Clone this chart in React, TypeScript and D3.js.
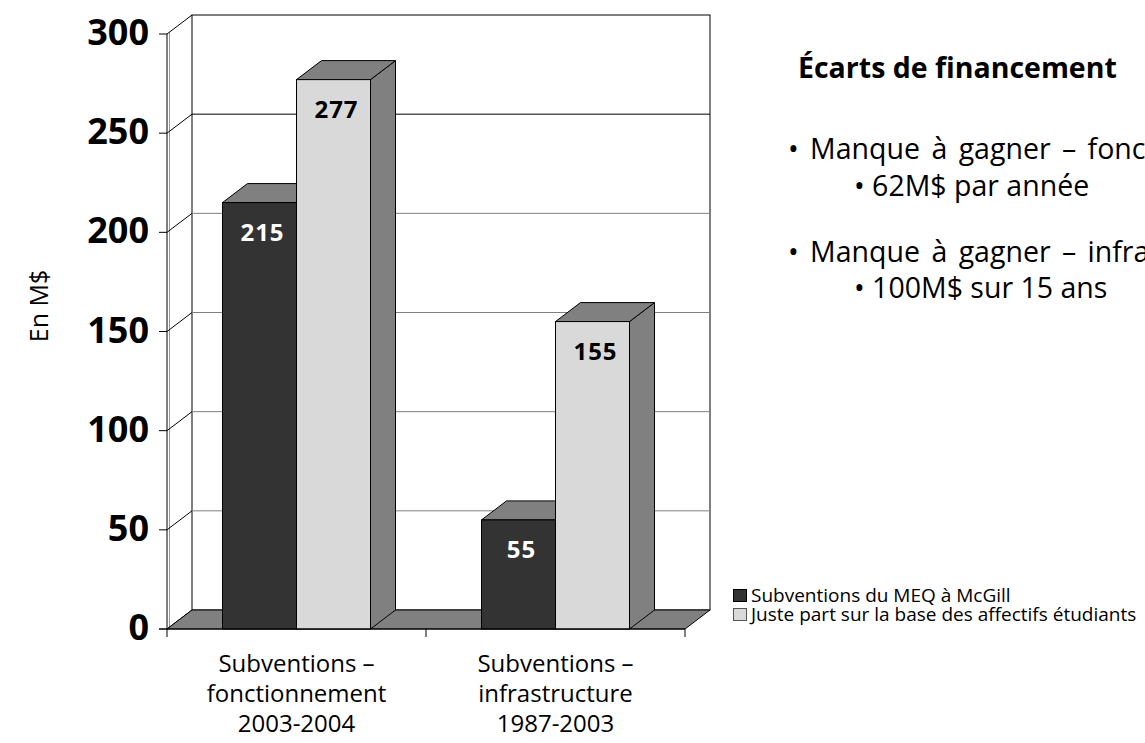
import React from 'react';
import * as d3 from 'd3';

const categories = [
  ['Subventions –', 'fonctionnement', '2003-2004'],
  ['Subventions –', 'infrastructure', '1987-2003']
];
const seriesNames = ['Subventions du MEQ à McGill', 'Juste part sur la base des affectifs étudiants'];
const meqValues = [215, 55];
const justePartValues = [277, 155];
const yTicks = [0, 50, 100, 150, 200, 250, 300];

const W = 1145;
const H = 743;
const FONT = '"Open Sans", sans-serif';

const frontLeft = 167;
const frontRight = 685;
const DX = 25;
const DY = -19;

const colors = {
  dark: '#333333',
  light: '#d9d9d9',
  face: '#808080'
};

export default function App() {
  const y = d3.scaleLinear().domain([0, 300]).range([629, 34]);
  const x0 = d3
    .scaleBand<number>()
    .domain(categories.map((_, i) => i))
    .range([frontLeft, frontRight]);
  const groupWidth = 148;
  const x1 = d3
    .scaleBand<number>()
    .domain([0, 1])
    .range([0, groupWidth]);

  const series = [
    { values: meqValues, fill: colors.dark, text: '#ffffff' },
    { values: justePartValues, fill: colors.light, text: '#000000' }
  ];

  const y0 = y(0);
  const yTop = y(300);
  const barX = (ci: number, si: number) =>
    (x0(ci) || 0) + x0.bandwidth() / 2 - groupWidth / 2 + (x1(si) || 0);

  return (
    <svg width={W} height={H} style={{ position: 'absolute', left: 0, top: 0 }}>
      <rect width={W} height={H} fill="#ffffff" />

      {/* paroi du fond */}
      <rect
        x={frontLeft + DX}
        y={yTop + DY}
        width={frontRight - frontLeft}
        height={y0 - yTop}
        fill="#ffffff"
        stroke="#000"
        strokeWidth={1}
      />
      {yTicks.slice(1, -1).map(t => (
        <line
          key={t}
          x1={frontLeft + DX}
          x2={frontRight + DX}
          y1={y(t) + DY}
          y2={y(t) + DY}
          stroke={t === 250 ? '#000' : '#808080'}
          strokeWidth={1}
        />
      ))}

      {/* paroi gauche */}
      <line x1={frontLeft + 2.5} x2={frontLeft + 2.5} y1={yTop - 1.5} y2={y0} stroke="#999" />
      {yTicks.map(t => (
        <line
          key={t}
          x1={frontLeft}
          y1={y(t)}
          x2={frontLeft + DX}
          y2={y(t) + DY}
          stroke="#000"
          strokeWidth={1}
        />
      ))}

      {/* plancher */}
      <path
        d={`M${frontLeft},${y0}L${frontRight},${y0}L${frontRight + DX},${y0 + DY}L${frontLeft + DX},${y0 + DY}Z`}
        fill={colors.face}
        stroke="#000"
        strokeWidth={1}
      />

      {/* barres */}
      {categories.map((_, ci) => (
        <g key={ci}>
          {series.map((s, si) => {
            const bx = barX(ci, si);
            const bw = x1.bandwidth();
            const top = y(s.values[ci]);
            return (
              <g key={si}>
                <path
                  d={`M${bx + bw},${top}L${bx + bw + DX},${top + DY}L${bx + bw + DX},${y0 + DY}L${bx + bw},${y0}Z`}
                  fill={colors.face}
                  stroke="#000"
                  strokeWidth={1}
                />
                <path
                  d={`M${bx},${top}L${bx + DX},${top + DY}L${bx + bw + DX},${top + DY}L${bx + bw},${top}Z`}
                  fill={colors.face}
                  stroke="#000"
                  strokeWidth={1}
                />
                <rect
                  x={bx}
                  y={top}
                  width={bw}
                  height={y0 - top}
                  fill={s.fill}
                  stroke="#000"
                  strokeWidth={1}
                />
              </g>
            );
          })}
        </g>
      ))}
      {categories.map((_, ci) =>
        series.map((s, si) => {
          const bx = barX(ci, si);
          const bw = x1.bandwidth();
          const top = y(s.values[ci]);
          return (
            <text
              key={`${ci}-${si}`}
              x={bx + bw / 2 + 3}
              y={top + 38}
              textAnchor="middle"
              fontFamily={FONT}
              fontWeight="bold"
              fontSize={24}
              fill={s.text}
              letterSpacing={1}
            >
              {s.values[ci]}
            </text>
          );
        })
      )}

      {/* axes avant */}
      <line x1={frontLeft} x2={frontLeft} y1={yTop} y2={y0} stroke="#000" />
      <line x1={frontLeft - 8} x2={frontRight} y1={y0} y2={y0} stroke="#000" />
      {yTicks.map(t => (
        <g key={t}>
          <line x1={frontLeft - 8} x2={frontLeft} y1={y(t)} y2={y(t)} stroke="#000" />
          <text
            x={149}
            y={y(t) + 11}
            textAnchor="end"
            fontFamily={FONT}
            fontWeight="bold"
            fontSize={36}
            fill="#000"
          >
            {t}
          </text>
        </g>
      ))}
      {[frontLeft, ...categories.map((_, i) => (x0(i) || 0) + x0.bandwidth())].map((tx, i) => (
        <line key={i} x1={tx} x2={tx} y1={y0} y2={y0 + 8} stroke="#000" />
      ))}
      {categories.map((lines, ci) => (
        <text
          key={ci}
          textAnchor="middle"
          fontFamily={FONT}
          fontSize={24}
          fill="#000"
        >
          {lines.map((l, li) => (
            <tspan key={li} x={(x0(ci) || 0) + x0.bandwidth() / 2} y={672 + li * 30}>
              {l}
            </tspan>
          ))}
        </text>
      ))}

      <text
        transform="translate(48,306) rotate(-90)"
        textAnchor="middle"
        fontFamily={FONT}
        fontSize={25}
        fill="#000"
      >
        En M$
      </text>

      {/* encadré de texte */}
      <g fontFamily={FONT} fill="#000" fontSize={28.5}>
        <text x={798} y={78} fontWeight="bold" fontSize={28.5}>
          Écarts de financement
        </text>
        <text x={788} y={159} wordSpacing={4}>• Manque à gagner – fonctionnement</text>
        <text x={854} y={196}>• 62M$ par année</text>
        <text x={788} y={262} wordSpacing={4}>• Manque à gagner – infrastructure</text>
        <text x={854} y={298}>• 100M$ sur 15 ans</text>
      </g>

      {/* légende */}
      {seriesNames.map((n, i) => (
        <g key={i} transform={`translate(733,${589 + i * 19})`}>
          <rect
            x={0.5}
            y={0.5}
            width={13}
            height={12}
            fill={i === 0 ? colors.dark : colors.light}
            stroke={i === 0 ? '#000' : '#555'}
          />
          <text x={18} y={12.5} fontFamily={FONT} fontSize={19} fill="#000">
            {n}
          </text>
        </g>
      ))}
    </svg>
  );
}
